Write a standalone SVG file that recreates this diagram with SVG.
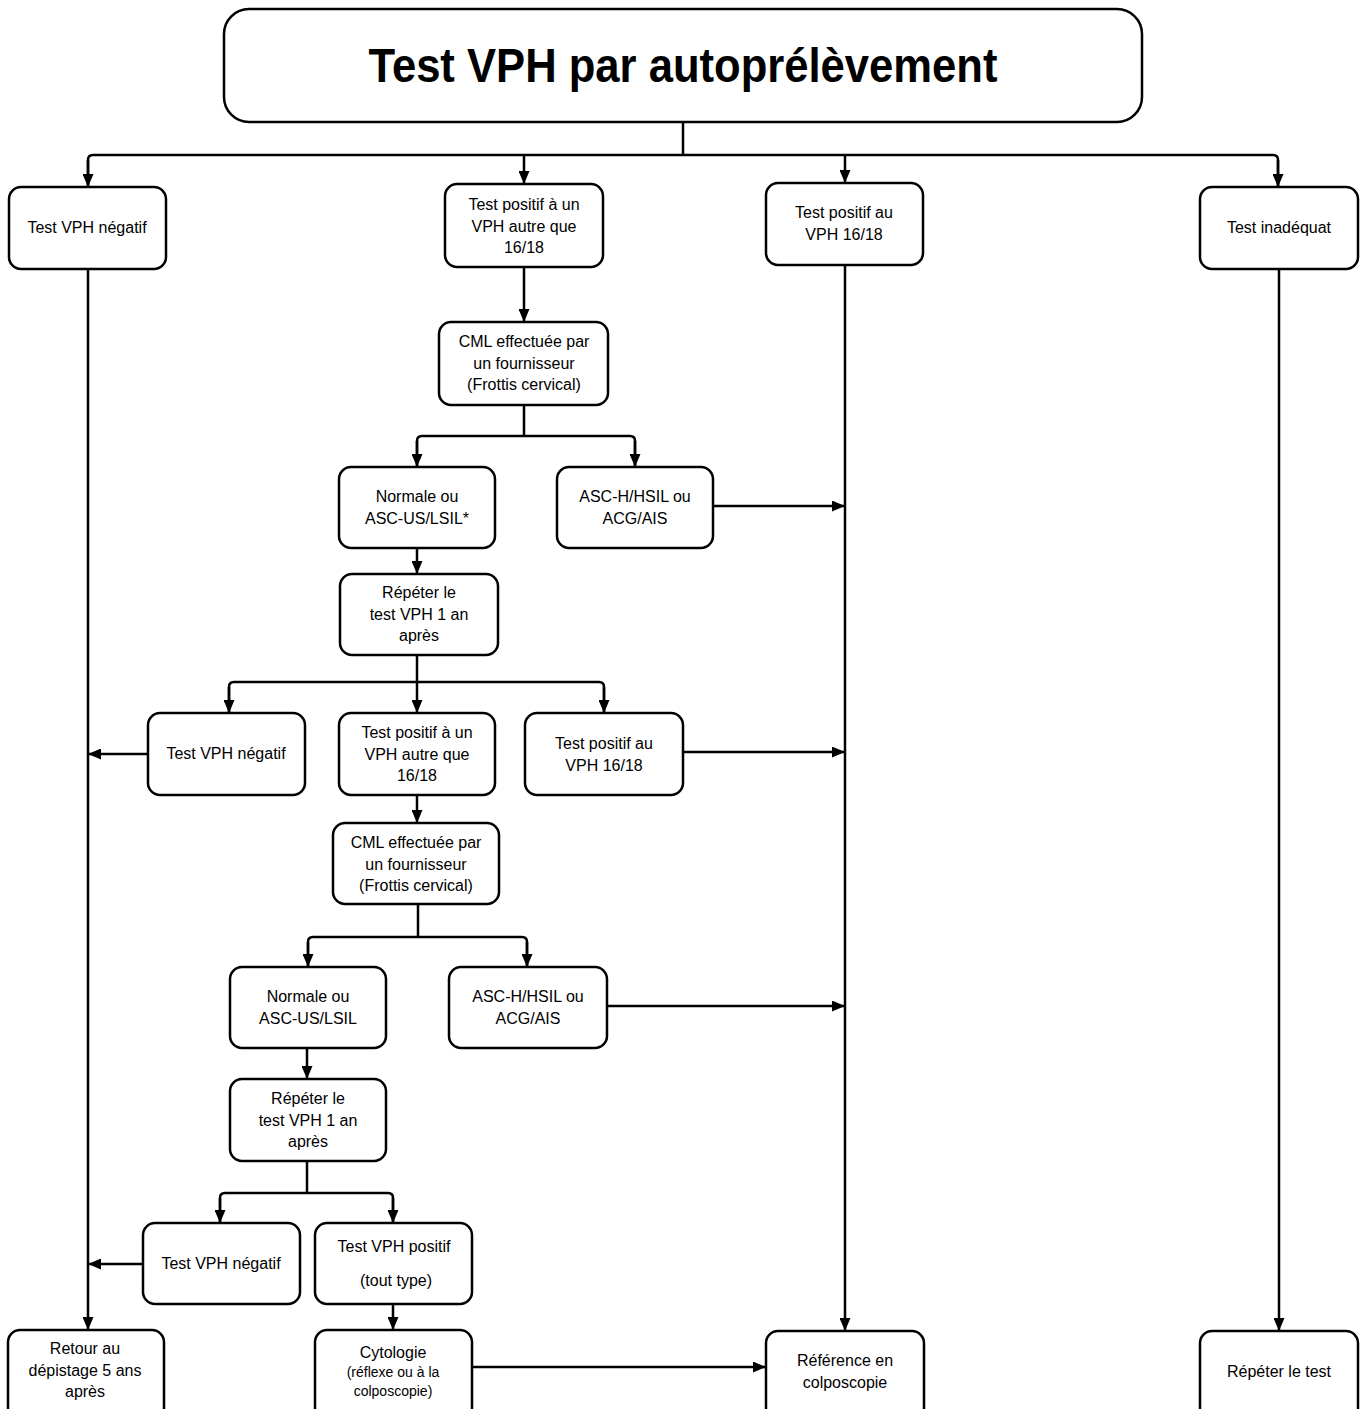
<svg xmlns="http://www.w3.org/2000/svg" width="1363" height="1409" viewBox="0 0 1363 1409">
<style>
.box{fill:#fff;stroke:#000;stroke-width:2.5}
.t{font-family:"Liberation Sans",Arial,sans-serif;font-size:16px;fill:#000;text-anchor:middle}
.s{font-size:14px}
.c{fill:none;stroke:#000;stroke-width:2.5}
.a{marker-end:url(#ah)}
</style>
<defs>
<marker id="ah" viewBox="0 0 13 11" refX="13" refY="5.5" markerWidth="13" markerHeight="11" markerUnits="userSpaceOnUse" orient="auto">
<path d="M0,0 L13,5.5 L0,11 z" fill="#000"/>
</marker>
</defs>
<rect width="1363" height="1409" fill="#fff"/>
<g id="connectors">
<path class="c" d="M683,122 V155"/>
<path class="c" d="M88,187 V160 Q88,155 93,155 H1273 Q1278,155 1278,160 V187"/>
<path class="c a" d="M88,160 V187"/>
<path class="c a" d="M524,155 V184"/>
<path class="c a" d="M845,155 V183"/>
<path class="c a" d="M1278,160 V187"/>
<path class="c a" d="M88,269 V1330"/>
<path class="c a" d="M845,265 V1331"/>
<path class="c a" d="M1279,269 V1331"/>
<path class="c a" d="M524,267 V322"/>
<path class="c" d="M524,405 V436"/>
<path class="c" d="M417,467 V441 Q417,436 422,436 H630 Q635,436 635,441 V467"/>
<path class="c a" d="M417,441 V467"/>
<path class="c a" d="M635,441 V467"/>
<path class="c a" d="M713,506 H845"/>
<path class="c a" d="M417,548 V574"/>
<path class="c" d="M417,655 V682"/>
<path class="c" d="M229,713 V687 Q229,682 234,682 H599 Q604,682 604,687 V713"/>
<path class="c a" d="M229,687 V713"/>
<path class="c a" d="M417,682 V713"/>
<path class="c a" d="M604,687 V713"/>
<path class="c a" d="M148,754 H88"/>
<path class="c a" d="M683,752 H845"/>
<path class="c a" d="M417,795 V823"/>
<path class="c" d="M418,904 V937"/>
<path class="c" d="M308,967 V942 Q308,937 313,937 H522 Q527,937 527,942 V967"/>
<path class="c a" d="M308,942 V967"/>
<path class="c a" d="M527,942 V967"/>
<path class="c a" d="M607,1006 H845"/>
<path class="c a" d="M307,1048 V1079"/>
<path class="c" d="M307,1161 V1193"/>
<path class="c" d="M220,1223 V1198 Q220,1193 225,1193 H388 Q393,1193 393,1198 V1223"/>
<path class="c a" d="M220,1198 V1223"/>
<path class="c a" d="M393,1198 V1223"/>
<path class="c a" d="M143,1264 H88"/>
<path class="c a" d="M393,1304 V1330"/>
<path class="c a" d="M472,1367 H766"/>
</g>
<g id="title">
<rect class="box" x="224" y="9" width="918" height="113" rx="25"/>
<text x="683" y="82" font-family="'Liberation Sans',Arial,sans-serif" font-weight="bold" font-size="49" text-anchor="middle" textLength="629" lengthAdjust="spacingAndGlyphs">Test VPH par autoprélèvement</text>
</g>
<g id="n-neg1">
<rect class="box" x="9" y="187" width="157" height="82" rx="12"/>
<text class="t" x="87" y="233">Test VPH négatif</text>
</g>
<g id="n-pos-autre1">
<rect class="box" x="445" y="184" width="158" height="83" rx="12"/>
<text class="t" x="524" y="210">Test positif à un</text>
<text class="t" x="524" y="232">VPH autre que</text>
<text class="t" x="524" y="253">16/18</text>
</g>
<g id="n-pos1618-1">
<rect class="box" x="766" y="183" width="157" height="82" rx="12"/>
<text class="t" x="844" y="218">Test positif au</text>
<text class="t" x="844" y="240">VPH 16/18</text>
</g>
<g id="n-inadequat">
<rect class="box" x="1200" y="187" width="158" height="82" rx="12"/>
<text class="t" x="1279" y="233">Test inadéquat</text>
</g>
<g id="n-cml1">
<rect class="box" x="439" y="322" width="169" height="83" rx="12"/>
<text class="t" x="524" y="347">CML effectuée  par</text>
<text class="t" x="524" y="369">un fournisseur</text>
<text class="t" x="524" y="390">(Frottis cervical)</text>
</g>
<g id="n-normale1">
<rect class="box" x="339" y="467" width="156" height="81" rx="12"/>
<text class="t" x="417" y="502">Normale ou</text>
<text class="t" x="417" y="524">ASC-US/LSIL*</text>
</g>
<g id="n-ascH1">
<rect class="box" x="557" y="467" width="156" height="81" rx="12"/>
<text class="t" x="635" y="502">ASC-H/HSIL ou</text>
<text class="t" x="635" y="524">ACG/AIS</text>
</g>
<g id="n-repeter1">
<rect class="box" x="340" y="574" width="158" height="81" rx="12"/>
<text class="t" x="419" y="598">Répéter  le</text>
<text class="t" x="419" y="620">test VPH 1 an</text>
<text class="t" x="419" y="641">après</text>
</g>
<g id="n-neg2">
<rect class="box" x="148" y="713" width="157" height="82" rx="12"/>
<text class="t" x="226" y="759">Test VPH négatif</text>
</g>
<g id="n-pos-autre2">
<rect class="box" x="339" y="713" width="156" height="82" rx="12"/>
<text class="t" x="417" y="738">Test positif à un</text>
<text class="t" x="417" y="760">VPH autre que</text>
<text class="t" x="417" y="781">16/18</text>
</g>
<g id="n-pos1618-2">
<rect class="box" x="525" y="713" width="158" height="82" rx="12"/>
<text class="t" x="604" y="749">Test positif au</text>
<text class="t" x="604" y="771">VPH 16/18</text>
</g>
<g id="n-cml2">
<rect class="box" x="333" y="823" width="166" height="81" rx="12"/>
<text class="t" x="416" y="848">CML effectuée  par</text>
<text class="t" x="416" y="870">un fournisseur</text>
<text class="t" x="416" y="891">(Frottis cervical)</text>
</g>
<g id="n-normale2">
<rect class="box" x="230" y="967" width="156" height="81" rx="12"/>
<text class="t" x="308" y="1002">Normale ou</text>
<text class="t" x="308" y="1024">ASC-US/LSIL</text>
</g>
<g id="n-ascH2">
<rect class="box" x="449" y="967" width="158" height="81" rx="12"/>
<text class="t" x="528" y="1002">ASC-H/HSIL ou</text>
<text class="t" x="528" y="1024">ACG/AIS</text>
</g>
<g id="n-repeter2">
<rect class="box" x="230" y="1079" width="156" height="82" rx="12"/>
<text class="t" x="308" y="1104">Répéter  le</text>
<text class="t" x="308" y="1126">test VPH 1 an</text>
<text class="t" x="308" y="1147">après</text>
</g>
<g id="n-neg3">
<rect class="box" x="143" y="1223" width="157" height="81" rx="12"/>
<text class="t" x="221" y="1269">Test VPH négatif</text>
</g>
<g id="n-pos-tout">
<rect class="box" x="315" y="1223" width="157" height="81" rx="12"/>
<text class="t" x="394" y="1252">Test VPH positif</text>
<text class="t" x="396" y="1286">(tout type)</text>
</g>
<g id="n-retour">
<rect class="box" x="8" y="1330" width="156" height="90" rx="12"/>
<text class="t" x="85" y="1354">Retour au</text>
<text class="t" x="85" y="1376">dépistage 5 ans</text>
<text class="t" x="85" y="1397">après</text>
</g>
<g id="n-cytologie">
<rect class="box" x="315" y="1330" width="157" height="90" rx="12"/>
<text class="t" x="393" y="1358">Cytologie</text>
<text class="t s" x="393" y="1377">(réflexe ou à la</text>
<text class="t s" x="393" y="1396">colposcopie)</text>
</g>
<g id="n-reference">
<rect class="box" x="766" y="1331" width="158" height="90" rx="12"/>
<text class="t" x="845" y="1366">Référence  en</text>
<text class="t" x="845" y="1388">colposcopie</text>
</g>
<g id="n-repeter-test">
<rect class="box" x="1200" y="1331" width="158" height="90" rx="12"/>
<text class="t" x="1279" y="1377">Répéter  le test</text>
</g>
</svg>
